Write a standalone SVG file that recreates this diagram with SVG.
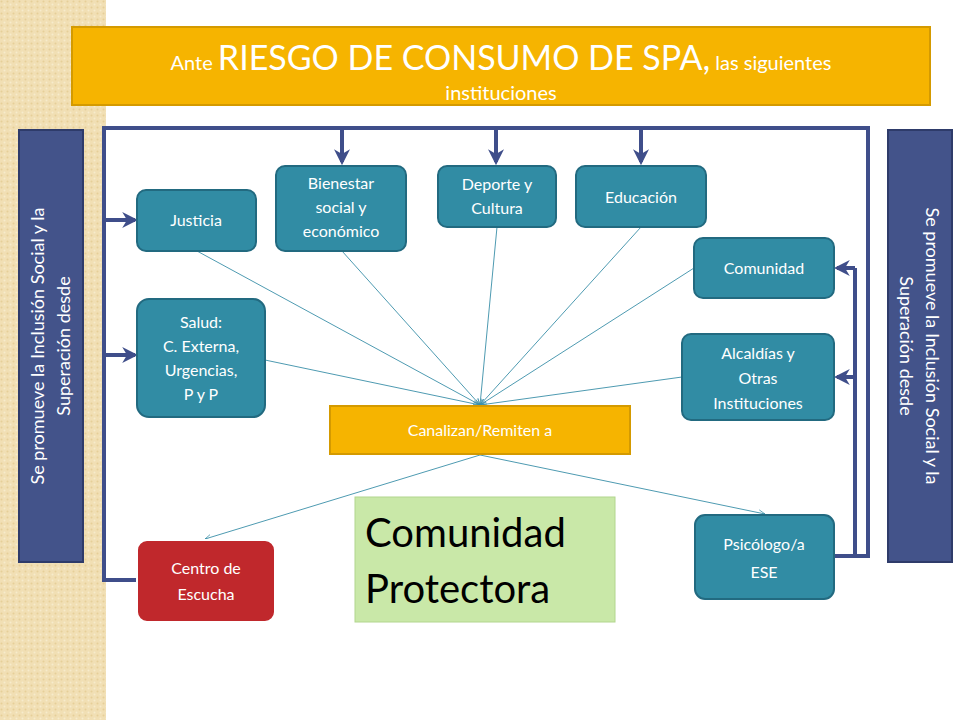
<svg xmlns="http://www.w3.org/2000/svg" width="960" height="720" viewBox="0 0 960 720">
<defs>
<pattern id="tex" width="6" height="6" patternUnits="userSpaceOnUse"><rect width="6" height="6" fill="#f1dfb4"/><circle cx="1.5" cy="1.5" r="1" fill="#e6cf98"/><circle cx="4.5" cy="4.5" r="1" fill="#f7ebcc"/></pattern>
<marker id="thin" viewBox="0 0 10 10" refX="9" refY="5" markerWidth="8" markerHeight="8" orient="auto"><path d="M0,1 L9,5 L0,9" fill="none" stroke="#3a8fa8" stroke-width="1"/></marker>
<marker id="big" viewBox="0 0 10 10" refX="8" refY="5" markerWidth="4" markerHeight="4" orient="auto"><path d="M0,0 L10,5 L0,10 L3,5 z" fill="#3f4e8a"/></marker>
</defs>
<style>
.n{fill:#318ca4;stroke:#226a80;stroke-width:2}
.t{font-family:"Gill Sans","Lato","Open Sans",sans-serif;fill:#fff;text-anchor:middle;font-size:16px}
.thin{stroke:#3a8fa8;stroke-width:0.9;fill:none;marker-end:url(#thin)}
.b{stroke:#3f4e8a;stroke-width:4;fill:none}
.ba{stroke:#3f4e8a;stroke-width:4;fill:none;marker-end:url(#big)}
.side{fill:#43538a;stroke:#2e3b6a;stroke-width:2}
.st{font-family:"Lato","Open Sans",sans-serif;fill:#fff;text-anchor:middle;font-size:18px}
</style>
<rect width="960" height="720" fill="#fff"/>
<rect width="106" height="720" fill="url(#tex)"/>
<g id="title"><rect x="72" y="27" width="858" height="78" fill="#f6b400" stroke="#d49a00" stroke-width="2"/>
<text x="501" y="70" font-family="Lato,'Open Sans',sans-serif" fill="#fff" text-anchor="middle" font-size="20">Ante <tspan font-size="34">RIESGO DE CONSUMO DE SPA,</tspan> las siguientes</text>
<text x="501" y="100" font-family="Lato,'Open Sans',sans-serif" fill="#fff" text-anchor="middle" font-size="20">instituciones</text></g>
<g id="left-side"><rect class="side" x="19" y="130" width="64" height="432"/>
<text class="st" transform="translate(44,346) rotate(-90)">Se promueve la Inclusión Social y la</text>
<text class="st" transform="translate(70,346) rotate(-90)">Superación desde</text></g>
<g id="right-side"><rect class="side" x="888" y="130" width="64" height="432"/>
<text class="st" transform="translate(926,346) rotate(90)">Se promueve la Inclusión Social y la</text>
<text class="st" transform="translate(900,346) rotate(90)">Superación desde</text></g>
<g id="connectors">
<path class="b" d="M137,580 H104 V128 H868 V556 H835"/>
<path class="ba" d="M104,220 H135"/><path class="ba" d="M104,355 H135"/>
<path class="ba" d="M342,128 V162"/><path class="ba" d="M496,128 V162"/><path class="ba" d="M641,128 V162"/>
<path class="b" d="M835,556 H855 V268"/>
<path class="ba" d="M855,268 H837"/><path class="ba" d="M855,377 H837"/>
<path class="thin" d="M197,251 L480,405"/><path class="thin" d="M342,251 L480,405"/><path class="thin" d="M497,227 L480,405"/><path class="thin" d="M641,227 L480,405"/><path class="thin" d="M694,268 L480,405"/><path class="thin" d="M682,377 L480,405"/><path class="thin" d="M265,360 L480,405"/>
<path class="thin" d="M480,455 L205,539"/><path class="thin" d="M480,455 L765,514"/>
</g>
<g id="justicia"><rect class="n" x="137" y="190" width="119" height="61" rx="9"/><text class="t" x="196" y="226">Justicia</text></g>
<g id="bienestar"><rect class="n" x="276" y="166" width="130" height="85" rx="9"/><text class="t" x="341" y="189">Bienestar</text><text class="t" x="341" y="213">social y</text><text class="t" x="341" y="237">económico</text></g>
<g id="deporte"><rect class="n" x="438" y="166" width="118" height="61" rx="9"/><text class="t" x="497" y="190">Deporte y</text><text class="t" x="497" y="214">Cultura</text></g>
<g id="educacion"><rect class="n" x="576" y="166" width="130" height="61" rx="9"/><text class="t" x="641" y="203">Educación</text></g>
<g id="comunidad"><rect class="n" x="694" y="238" width="140" height="60" rx="9"/><text class="t" x="764" y="274">Comunidad</text></g>
<g id="alcaldias"><rect class="n" x="682" y="334" width="152" height="86" rx="9"/><text class="t" x="758" y="359">Alcaldías y</text><text class="t" x="758" y="384">Otras</text><text class="t" x="758" y="409">Instituciones</text></g>
<g id="salud"><rect class="n" x="137" y="299" width="128" height="118" rx="12"/><text class="t" x="201" y="328">Salud:</text><text class="t" x="201" y="352">C. Externa,</text><text class="t" x="201" y="376">Urgencias,</text><text class="t" x="201" y="400">P y P</text></g>
<g id="canalizan"><rect x="330" y="406" width="300" height="48" fill="#f6b400" stroke="#d49a00" stroke-width="2"/><text class="t" x="480" y="436" font-size="15">Canalizan/Remiten a</text></g>
<g id="centro"><rect x="137" y="540" width="138" height="82" rx="10" fill="#c0282c" stroke="#fff" stroke-width="2"/><text class="t" x="206" y="574">Centro de</text><text class="t" x="206" y="600">Escucha</text></g>
<g id="protectora"><rect x="355" y="497" width="260" height="125" fill="#c9e8a8" stroke="#b2d68e"/>
<text x="365" y="547" font-family="'Gill Sans',Lato,sans-serif" font-size="40" fill="#000">Comunidad</text><text x="365" y="603" font-family="'Gill Sans',Lato,sans-serif" font-size="40" fill="#000">Protectora</text></g>
<g id="psicologo"><rect class="n" x="695" y="515" width="139" height="84" rx="10"/><text class="t" x="764" y="550">Psicólogo/a</text><text class="t" x="764" y="578">ESE</text></g>
</svg>
